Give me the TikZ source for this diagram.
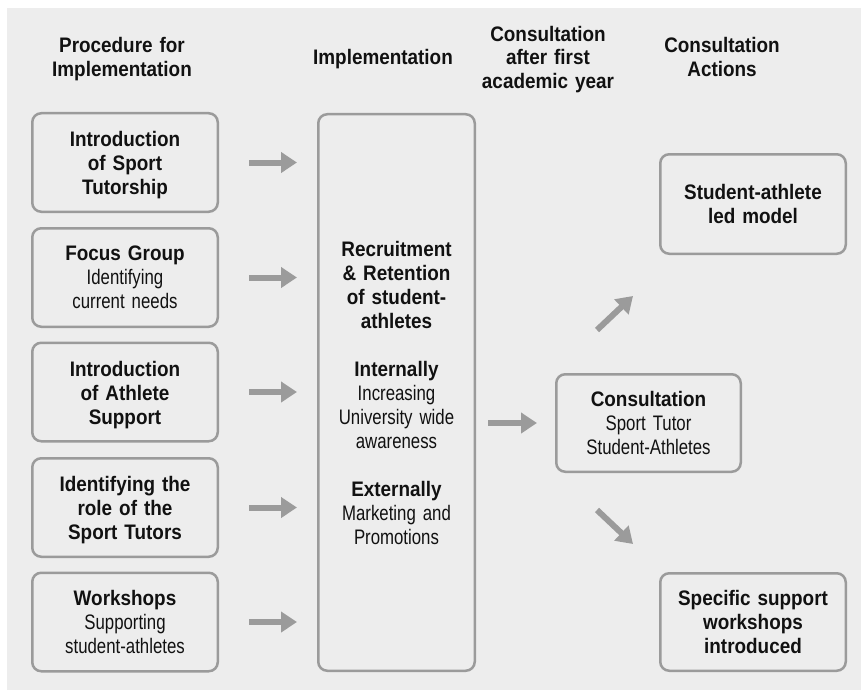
\documentclass[tikz,border=0pt]{standalone}
\usepackage{fontspec}
\setmainfont{Liberation Sans}
\newfontfamily\bfnt{Liberation Sans}[FakeStretch=0.9]
\newfontfamily\rfnt{Liberation Sans}[FakeStretch=0.8]
\usetikzlibrary{arrows.meta}
\definecolor{bg}{HTML}{EDEDED}
\definecolor{edge}{HTML}{9B9B9B}
\definecolor{ink}{HTML}{111111}
\newcommand{\plain}{\rfnt\mdseries}
\begin{document}
\begin{tikzpicture}[x=1pt,y=-1pt,
  box/.style={draw=edge, line width=2.5pt, rounded corners=9pt, fill=bg,
    align=center, text=ink, inner sep=0pt,
    font=\fontsize{21}{24}\selectfont\bfnt\bfseries},
  hdr/.style={align=center, text=ink, inner sep=0pt, text width=200pt,
    font=\fontsize{21}{23.5}\selectfont\bfnt\bfseries},
  bstrut/.style={execute at begin node={\rule{0pt}{20.5pt}}},
  hstrut/.style={execute at begin node={\rule{0pt}{19.5pt}}},
  arr/.style={draw=edge, line width=6pt, -{Triangle[length=16pt,width=20pt]}}]
\useasboundingbox (0,0) rectangle (861,690);
\fill[bg] (7,8) rectangle (861,690);

% headers
\node[hdr, hstrut] (h1) at (122,57) {Procedure for\\Implementation};
\node[hdr, hstrut] (h2) at (383,57) {Implementation};
\node[hdr, hstrut] (h3) at (548,57) {Consultation\\after first\\academic year};
\node[hdr] (h4) at (722,57) {Consultation\\Actions};

% procedure boxes
\node[box, bstrut, minimum width=185.5pt, minimum height=98.5pt, text width=185pt] (p1) at (125,162.5)
  {Introduction\\of Sport\\Tutorship};
\node[box, minimum width=185.5pt, minimum height=98.5pt, text width=185pt] (p2) at (125,277.5)
  {Focus Group\\{\plain Identifying\\current needs}};
\node[box, bstrut, minimum width=185.5pt, minimum height=98.5pt, text width=185pt] (p3) at (125,392)
  {Introduction\\of Athlete\\Support};
\node[box, bstrut, minimum width=185.5pt, minimum height=98.5pt, text width=185pt] (p4) at (125,507.5)
  {Identifying the\\role of the\\Sport Tutors};
\node[box, minimum width=185.5pt, minimum height=98.5pt, text width=185pt] (p5) at (125,622)
  {Workshops\\{\plain Supporting\\student-athletes}};

% implementation box
\node[box, minimum width=156.5pt, minimum height=556.5pt, text width=156pt] (big) at (396.5,392.5)
  {Recruitment\\\& Retention\\of student-\\athletes\\[24pt]
   Internally\\{\plain Increasing\\University wide\\awareness}\\[24pt]
   Externally\\{\plain Marketing and\\Promotions}};

% consultation
\node[box, minimum width=184.5pt, minimum height=97.5pt, text width=184pt] (cons) at (648.5,423)
  {Consultation\\{\plain Sport Tutor\\Student-Athletes}};

% actions
\node[box, minimum width=185.5pt, minimum height=99.5pt, text width=185pt] (sam) at (753,204)
  {Student-athlete\\led model};
\node[box, minimum width=185.5pt, minimum height=97.5pt, text width=185pt] (spec) at (753,622)
  {Specific support\\workshops\\introduced};

% arrows
\foreach \n in {p1,p2,p3,p4,p5}
  \draw[arr, shorten <=30pt, shorten >=20pt] (\n.east) -- (\n.east -| big.west);
\draw[arr, shorten <=12pt, shorten >=18pt] (big.east |- cons.west) -- (cons.west);
\draw[arr] ([xshift=-51.5pt,yshift=43pt]cons.north) -- ([xshift=-120pt,yshift=-41pt]sam.south);
\draw[arr] ([xshift=-51.5pt,yshift=-37pt]cons.south) -- ([xshift=-120pt,yshift=28pt]spec.north);
\end{tikzpicture}
\end{document}
